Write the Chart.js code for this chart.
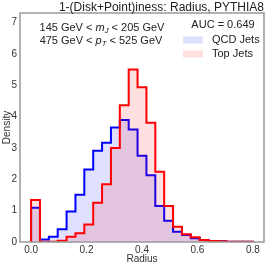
<!DOCTYPE html>
<html>
<head>
<meta charset="utf-8">
<script src="https://cdn.jsdelivr.net/npm/chart.js@4"></script>
<style>
  html, body { margin: 0; padding: 0; background: #fff; }
  #wrap { width: 266px; height: 266px; }
</style>
</head>
<body>
<div id="wrap"><canvas id="radiusChart" width="266" height="266"></canvas></div>
<script>
// histogram bins (Radius), 25 bins of width 0.032
const binEdges = [0, 0.032, 0.064, 0.096, 0.128, 0.16, 0.192, 0.224, 0.256, 0.288, 0.32, 0.352,
    0.384, 0.416, 0.448, 0.48, 0.512, 0.544, 0.576, 0.608, 0.64, 0.672, 0.704, 0.736, 0.768, 0.8];
const qcdDensity = [1.09, 0.08, 0.17, 0.41, 0.97, 1.51, 2.31, 2.91, 3.16, 3.65, 3.89, 3.59,
    2.75, 2.13, 1.15, 0.68, 0.33, 0.22, 0.12, 0.06, 0.03, 0.02, 0.01, 0.01, 0.01];
const topDensity = [1.34, 0.01, 0.01, 0.04, 0.17, 0.28, 0.56, 1.25, 1.84, 3.00, 4.36, 5.50,
    4.93, 3.80, 2.24, 1.15, 0.49, 0.25, 0.15, 0.06, 0.03, 0.02, 0.01, 0.01, 0.01];
const xTicks = [0.0, 0.2, 0.4, 0.6, 0.8];
const yTicks = [0, 1, 2, 3, 4, 5, 6, 7];
const titleText = '1-(Disk+Point)iness: Radius, PYTHIA8';
const aucText = 'AUC = 0.649';
const seriesNames = ['QCD Jets', 'Top Jets'];

const FONT = "'Liberation Sans', Arial, sans-serif";

// outline of a step histogram, closed down to zero at both ends
function stepPoints(edges, vals) {
    const pts = [{x: edges[0], y: 0}];
    vals.forEach((v, i) => pts.push({x: edges[i], y: v}));
    pts.push({x: edges[edges.length - 1], y: vals[vals.length - 1]});
    pts.push({x: edges[edges.length - 1], y: 0});
    return pts;
}

function drawRich(ctx, parts, cx, cy, size) {
    let total = 0;
    parts.forEach(p => {
        ctx.font = (p.italic ? 'italic ' : '') + (p.sub ? size * 0.7 : size) + 'px ' + FONT;
        p.w = ctx.measureText(p.t).width;
        total += p.w;
    });
    let x = cx - total / 2;
    ctx.textAlign = 'left';
    ctx.textBaseline = 'middle';
    parts.forEach(p => {
        ctx.font = (p.italic ? 'italic ' : '') + (p.sub ? size * 0.7 : size) + 'px ' + FONT;
        ctx.fillText(p.t, x, p.sub ? cy + size * 0.3 : cy);
        x += p.w;
    });
}

const extras = {
    id: 'extras',
    afterDraw(chart) {
        const {ctx, chartArea: a} = chart;
        ctx.save();
        // axes box
        ctx.strokeStyle = '#999';
        ctx.lineWidth = 1.5;
        ctx.strokeRect(a.left, a.top, a.right - a.left, a.bottom - a.top);

        ctx.fillStyle = '#222';
        ctx.font = '12px ' + FONT;
        ctx.textAlign = 'right';
        ctx.textBaseline = 'middle';
        ctx.fillText(titleText, a.right, 7.5);

        drawRich(ctx, [{t: '145 GeV < '}, {t: 'm', italic: true}, {t: 'J', italic: true, sub: true},
            {t: ' < 205 GeV'}], 102, 27.5, 11);
        drawRich(ctx, [{t: '475 GeV < '}, {t: 'p', italic: true}, {t: 'T', italic: true, sub: true},
            {t: ' < 525 GeV'}], 101, 40.5, 11);

        // legend
        ctx.font = '11px ' + FONT;
        ctx.textAlign = 'center';
        ctx.fillText(aucText, 223, 25);
        const fills = ['rgba(0,0,255,0.12)', 'rgba(255,0,0,0.12)'];
        seriesNames.forEach((name, i) => {
            const y = 40 + i * 14;
            ctx.fillStyle = fills[i];
            ctx.fillRect(183, y - 3.5, 20, 7);
            ctx.fillStyle = '#222';
            ctx.textAlign = 'left';
            ctx.fillText(name, 212, y);
        });
        ctx.restore();
    }
};

new Chart(document.getElementById('radiusChart'), {
    type: 'line',
    data: {
        datasets: [{
            label: seriesNames[1],
            data: stepPoints(binEdges, topDensity),
            borderColor: '#ff0000',
            backgroundColor: 'rgba(255,0,0,0.12)',
            fill: 'origin',
            order: 0
        }, {
            label: seriesNames[0],
            data: stepPoints(binEdges, qcdDensity),
            borderColor: '#0000ff',
            backgroundColor: 'rgba(0,0,255,0.12)',
            fill: 'origin',
            order: 1
        }]
    },
    options: {
        responsive: false,
        animation: false,
        layout: {padding: {left: 0, right: 2, top: 13, bottom: 0}},
        elements: {
            line: {stepped: 'before', borderWidth: 2, tension: 0, borderJoinStyle: 'miter'},
            point: {radius: 0}
        },
        plugins: {legend: {display: false}, tooltip: {enabled: false}},
        scales: {
            x: {
                type: 'linear',
                min: -0.04,
                max: 0.84,
                afterBuildTicks: s => { s.ticks = xTicks.map(v => ({value: v})); },
                afterFit: s => { s.height = 24; },
                grid: {display: false, drawTicks: false},
                border: {display: false},
                ticks: {
                    padding: 2,
                    color: '#333',
                    font: {family: FONT, size: 10},
                    callback: v => v.toFixed(1)
                },
                title: {display: true, text: 'Radius', color: '#333',
                    font: {family: FONT, size: 10}, padding: {top: 0, bottom: 1}}
            },
            y: {
                min: 0,
                max: 7.3,
                afterBuildTicks: s => { s.ticks = yTicks.map(v => ({value: v})); },
                afterFit: s => { s.width = 20; },
                grid: {display: false, drawTicks: false},
                border: {display: false},
                ticks: {
                    padding: 3,
                    color: '#333',
                    font: {family: FONT, size: 10},
                    callback: v => String(v)
                },
                title: {display: true, text: 'Density', color: '#333',
                    font: {family: FONT, size: 10}, padding: {top: 1, bottom: 0}}
            }
        }
    },
    plugins: [extras]
});
</script>
</body>
</html>
